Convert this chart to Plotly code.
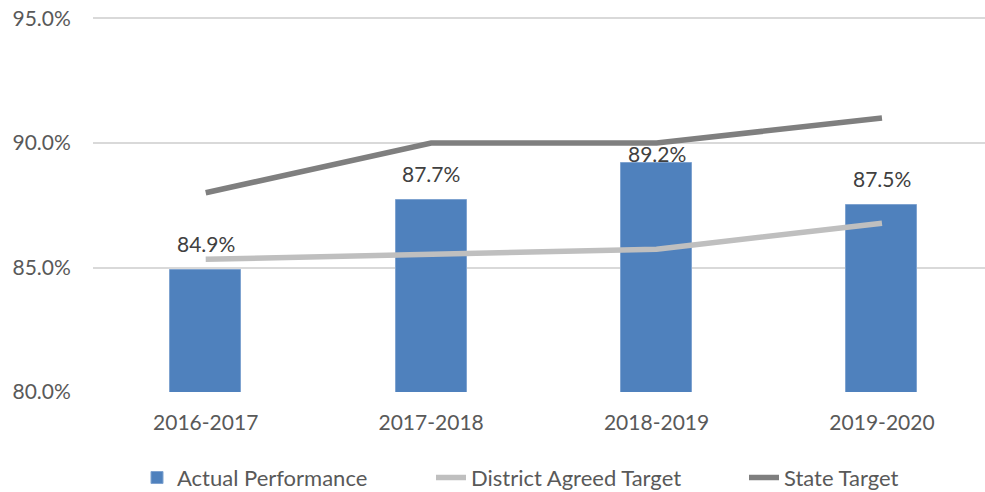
import plotly.graph_objects as go

categories = ["2016-2017", "2017-2018", "2018-2019", "2019-2020"]
actual = [84.9, 87.7, 89.2, 87.5]
district_target = [85.33, 85.55, 85.73, 86.78]
state_target = [88.0, 90.0, 90.0, 91.0]
y_ticks = [80, 85, 90, 95]
y_tick_labels = ["80.0%", "85.0%", "90.0%", "95.0%"]

# style: vertical offset (px) of each data label above its bar
label_shift = [12, 12, -5, 12]

FONT = "Lato"
L, R = 93, 985
W = R - L


def px_to_paper(px):
    return (px - L) / W


fig = go.Figure()
fig.add_trace(go.Bar(
    x=categories, y=actual, name="Actual Performance",
    marker=dict(color="#4F81BD", line=dict(color="#7FA3D0", width=1)),
    width=0.315, legend="legend",
))
fig.add_trace(go.Scatter(
    x=categories, y=district_target, name="District Agreed Target",
    mode="lines", line=dict(color="#BFBFBF", width=5.5), legend="legend2",
))
fig.add_trace(go.Scatter(
    x=categories, y=state_target, name="State Target",
    mode="lines", line=dict(color="#7F7F7F", width=5.5), legend="legend3",
))

for c, v, s in zip(categories, actual, label_shift):
    fig.add_annotation(
        x=c, y=v, text=f"{v:.1f}%", showarrow=False,
        yanchor="bottom", yshift=s,
        font=dict(family=FONT, size=21, color="#404040"),
    )

leg_common = dict(
    orientation="h", yanchor="middle", y=-0.228, xanchor="left",
    font=dict(family=FONT, size=22, color="#595959"),
    bgcolor="rgba(0,0,0,0)", borderwidth=0,
)
fig.update_layout(
    width=985, height=492,
    margin=dict(l=L, r=0, t=16, b=100, autoexpand=False),
    paper_bgcolor="white", plot_bgcolor="white",
    font=dict(family=FONT, size=21, color="#595959"),
    showlegend=True,
    legend=dict(x=px_to_paper(179 - 42), **leg_common),
    legend2=dict(x=px_to_paper(473 - 42), **leg_common),
    legend3=dict(x=px_to_paper(786 - 42), **leg_common),
    bargap=0,
)
fig.update_xaxes(
    range=[-0.5, 3.457],
    showgrid=False, zeroline=False, showline=False,
    ticks="outside", ticklen=12, tickcolor="rgba(0,0,0,0)",
    tickfont=dict(family=FONT, size=21, color="#595959"),
)
fig.update_yaxes(
    range=[80, 95.1], tickvals=y_ticks, ticktext=y_tick_labels,
    showgrid=True, gridcolor="#D9D9D9", gridwidth=1.5,
    zeroline=False, showline=False,
    ticks="outside", ticklen=17, tickcolor="rgba(0,0,0,0)",
    tickfont=dict(family=FONT, size=21, color="#595959"),
)

fig.write_html(
    "out.html",
    config={"displayModeBar": False},
    post_script="document.body.style.margin='0';document.body.style.padding='0';",
)
